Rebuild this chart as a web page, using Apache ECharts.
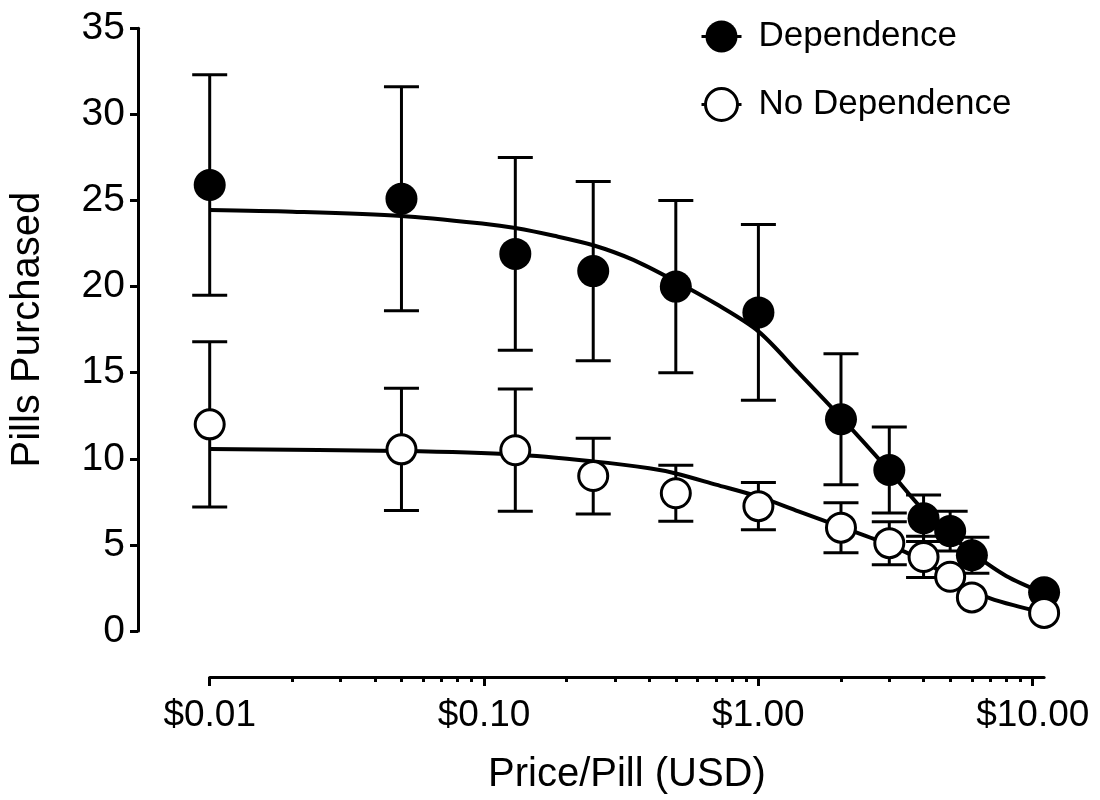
<!DOCTYPE html>
<html>
<head>
<meta charset="utf-8">
<script src="https://cdn.jsdelivr.net/npm/echarts@6/dist/echarts.min.js"></script>
<style>html,body{margin:0;padding:0;background:#fff}#c{width:1100px;height:800px}</style>
</head>
<body>
<div id="c"></div>
<script>
// ---- data ----
const prices = [0.01, 0.05, 0.13, 0.25, 0.5, 1, 2, 3, 4, 5, 6, 11];
const depMean = [25.9, 25.1, 21.9, 20.9, 20.0, 18.5, 12.3, 9.35, 6.55, 5.8, 4.4, 2.25];
const depErr = [6.4, 6.5, 5.6, 5.2, 5.0, 5.1, 3.8, 2.5, 1.35, 1.15, 1.05, 0];
const noDepMean = [12.0, 10.55, 10.5, 9.0, 8.0, 7.25, 6.0, 5.1, 4.3, 3.15, 1.95, 1.05];
const noDepErr = [4.8, 3.55, 3.55, 2.2, 1.62, 1.37, 1.45, 1.25, 1.2, 0, 0, 0];

// fitted demand curves
const depFitX = [0.01, 0.02, 0.05, 0.1, 0.13, 0.18, 0.25, 0.35, 0.5, 0.7, 1, 1.4, 2, 3, 4, 5, 6, 8, 11];
const depFitY = [24.45, 24.35, 24.1, 23.65, 23.4, 22.95, 22.4, 21.55, 20.3, 19.0, 17.4, 15.0, 12.4, 9.3, 7.0, 5.6, 4.55, 3.2, 2.2];
const noDepFitX = [0.01, 0.05, 0.13, 0.25, 0.4, 0.5, 0.7, 1, 1.4, 2, 3, 4, 5, 6, 7, 8.5, 11];
const noDepFitY = [10.57, 10.45, 10.25, 9.85, 9.45, 9.15, 8.5, 7.8, 6.95, 6.05, 5.0, 4.05, 3.1, 2.35, 1.9, 1.5, 1.05];

const majorTicks = [0.01, 0.1, 1, 10];
const majorLabels = ['$0.01', '$0.10', '$1.00', '$10.00'];
const minorTicks = [0.02,0.03,0.04,0.05,0.06,0.07,0.08,0.09,0.2,0.3,0.4,0.5,0.6,0.7,0.8,0.9,2,3,4,5,6,7,8,9];

const FONT = '"Liberation Sans", Arial, Helvetica, sans-serif';

function errorSeries(name, means, errs) {
  return {
    type: 'custom', name: name, xAxisIndex: 0, yAxisIndex: 0, z: 3, silent: true,
    encode: { x: 0, y: [1, 2] },
    data: prices.map((p, i) => [p, means[i] - errs[i], means[i] + errs[i], errs[i]]),
    renderItem: function (params, api) {
      const e = api.value(3);
      if (!(e > 0)) return null;
      const x = api.value(0);
      const lo = api.coord([x, api.value(1)]);
      const hi = api.coord([x, api.value(2)]);
      const hw = 17.5;
      const st = { stroke: '#000', lineWidth: 3, fill: null };
      return { type: 'group', children: [
        { type: 'line', shape: { x1: lo[0], y1: lo[1], x2: hi[0], y2: hi[1] }, style: st },
        { type: 'line', shape: { x1: lo[0] - hw, y1: lo[1], x2: lo[0] + hw, y2: lo[1] }, style: st },
        { type: 'line', shape: { x1: hi[0] - hw, y1: hi[1], x2: hi[0] + hw, y2: hi[1] }, style: st }
      ]};
    }
  };
}

const chart = echarts.init(document.getElementById('c'));
chart.setOption({
  animation: false,
  backgroundColor: '#fff',
  grid: { left: 209.2, right: 55.9, top: 28.3, bottom: 169 },
  legend: {
    orient: 'vertical', left: 695, top: 14, itemWidth: 40, itemHeight: 40, itemGap: 33,
    selectedMode: false,
    textStyle: { fontSize: 35, color: '#000', fontFamily: FONT, padding: [0, 0, 0, 12] },
    data: [
      { name: 'Dependence', itemStyle: { color: '#000', borderWidth: 0 }, lineStyle: { color: '#000', width: 3, opacity: 1 } },
      { name: 'No Dependence', itemStyle: { color: '#fff', borderColor: '#000', borderWidth: 3 }, lineStyle: { color: '#000', width: 3, opacity: 1 } }
    ]
  },
  xAxis: [{
    type: 'log', logBase: 10, min: 0.01, max: 11, position: 'bottom', offset: 46,
    axisLine: { show: true, onZero: false, lineStyle: { color: '#000', width: 3 } },
    axisTick: { show: true, length: 9, customValues: majorTicks, lineStyle: { color: '#000', width: 3 } },
    axisLabel: {
      customValues: majorTicks, fontSize: 37, color: '#000', fontFamily: FONT, margin: 20,
      formatter: function (v) {
        const i = majorTicks.findIndex(t => Math.abs(t - v) / t < 1e-6);
        return i >= 0 ? majorLabels[i] : '';
      }
    },
    splitLine: { show: false }, minorTick: { show: false },
    name: 'Price/Pill (USD)', nameLocation: 'middle', nameGap: 78,
    nameTextStyle: { fontSize: 40, color: '#000', fontFamily: FONT }
  }, {
    type: 'log', logBase: 10, min: 0.01, max: 11, position: 'bottom', offset: 46,
    axisLine: { show: false, onZero: false },
    axisTick: { show: true, length: 5, customValues: minorTicks, lineStyle: { color: '#000', width: 3 } },
    axisLabel: { show: false }, splitLine: { show: false }
  }],
  yAxis: {
    type: 'value', min: 0, max: 35, interval: 5, position: 'left', offset: 71.7,
    axisLine: { show: true, onZero: false, lineStyle: { color: '#000', width: 3 } },
    axisTick: { show: true, length: 8, lineStyle: { color: '#000', width: 3 } },
    axisLabel: { fontSize: 39, color: '#000', fontFamily: FONT, margin: 13 },
    splitLine: { show: false },
    name: 'Pills Purchased', nameLocation: 'middle', nameGap: 90, nameRotate: 90,
    nameTextStyle: { fontSize: 40, color: '#000', fontFamily: FONT }
  },
  series: [
    { type: 'line', name: 'depFit', xAxisIndex: 0, data: depFitX.map((x, i) => [x, depFitY[i]]),
      smooth: 0.3, symbol: 'none', lineStyle: { color: '#000', width: 4 }, z: 2, silent: true },
    { type: 'line', name: 'noDepFit', xAxisIndex: 0, data: noDepFitX.map((x, i) => [x, noDepFitY[i]]),
      smooth: 0.3, symbol: 'none', lineStyle: { color: '#000', width: 4 }, z: 2, silent: true },
    errorSeries('depErr', depMean, depErr),
    errorSeries('noDepErr', noDepMean, noDepErr),
    { type: 'line', name: 'Dependence', xAxisIndex: 0, data: prices.map((p, i) => [p, depMean[i]]),
      symbol: 'circle', symbolSize: 32, showSymbol: true, itemStyle: { color: '#000', borderWidth: 0 },
      lineStyle: { width: 0, opacity: 0 }, z: 4, silent: true },
    { type: 'line', name: 'No Dependence', xAxisIndex: 0, data: prices.map((p, i) => [p, noDepMean[i]]),
      symbol: 'circle', symbolSize: 29, showSymbol: true, itemStyle: { color: '#fff', borderColor: '#000', borderWidth: 3 },
      lineStyle: { width: 0, opacity: 0 }, z: 5, silent: true }
  ]
});
</script>
</body>
</html>
